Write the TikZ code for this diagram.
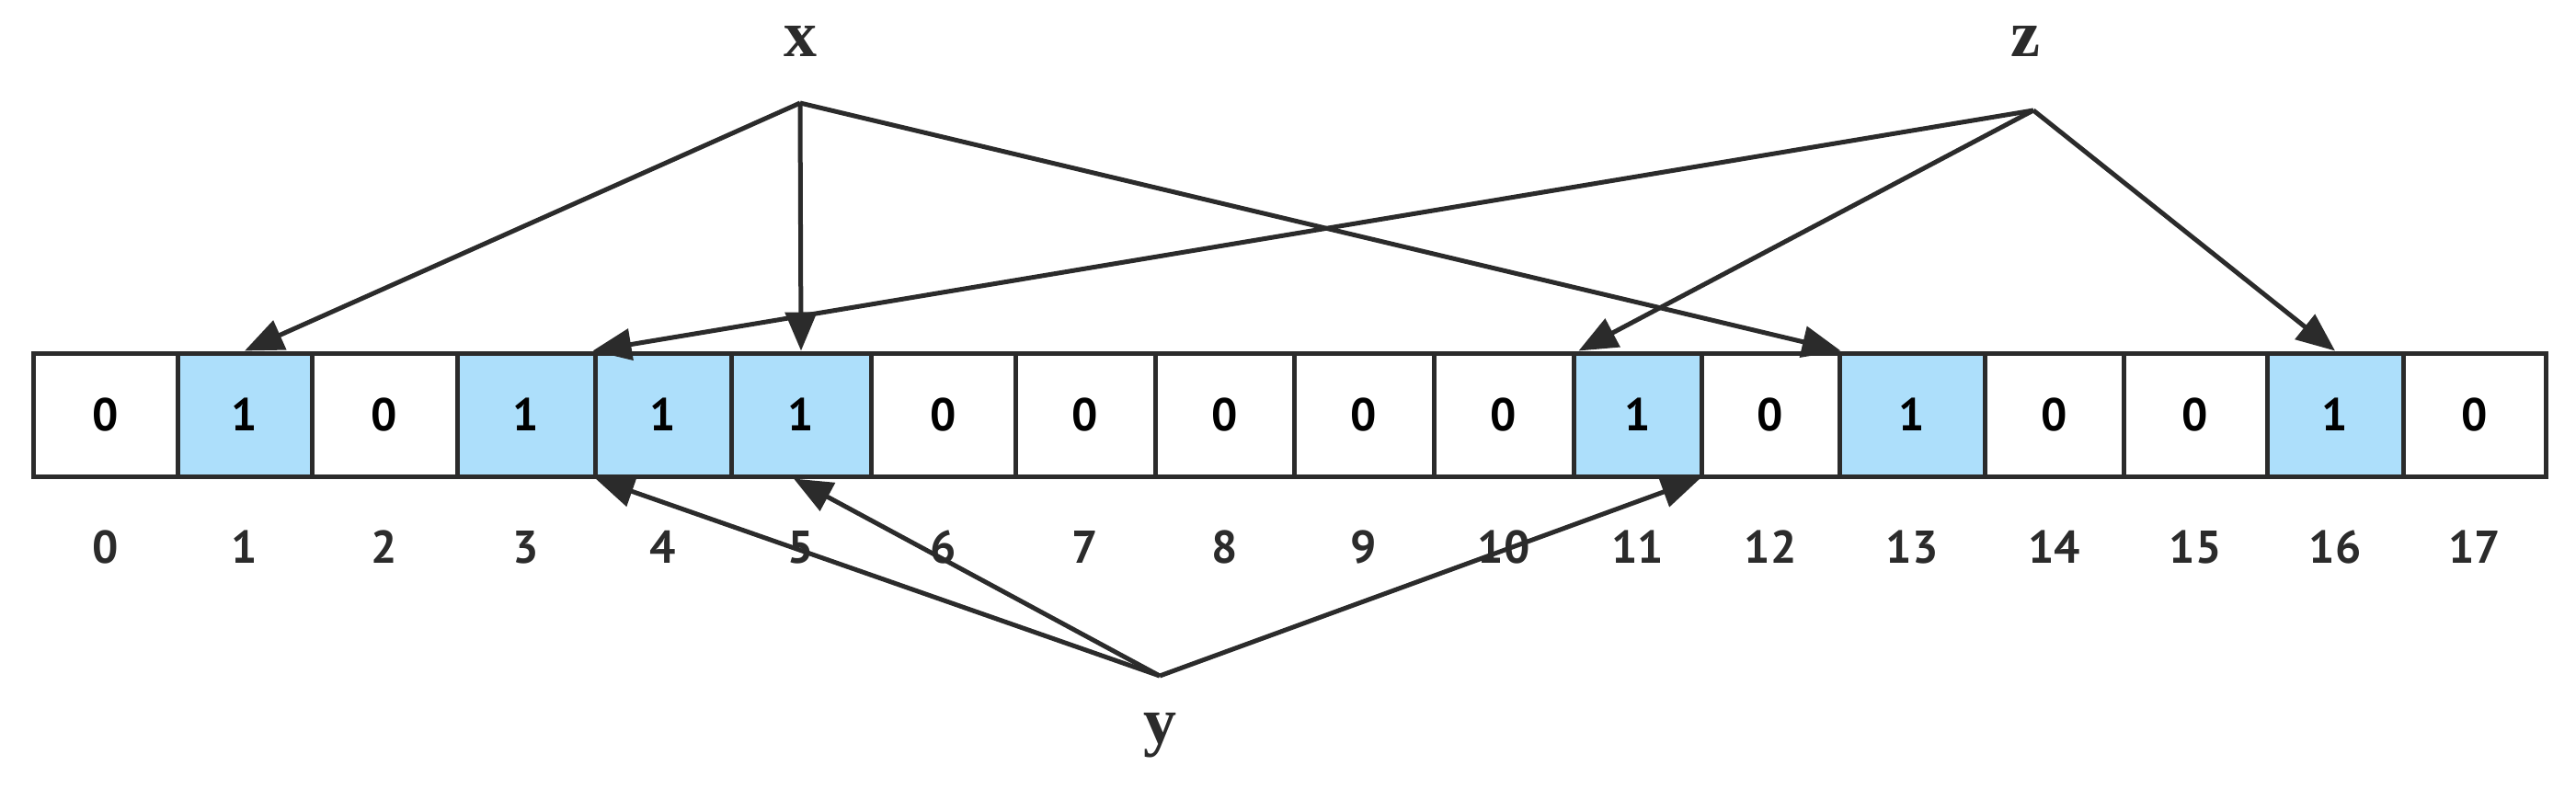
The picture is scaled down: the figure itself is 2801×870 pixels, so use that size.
\documentclass[tikz,border=0pt]{standalone}
\usepackage{fontspec}
\setmainfont{Liberation Serif}
\newfontfamily\numfont{PT Sans}
\usetikzlibrary{arrows.meta}
\definecolor{cellblue}{HTML}{ADDFFB}
\definecolor{ink}{HTML}{2B2B2B}
\begin{document}
\begin{tikzpicture}[x=1pt,y=-1pt,
  cell/.style={draw=ink,line width=5pt,inner sep=0pt,font=\numfont\bfseries\fontsize{50}{50}\selectfont},
  idx/.style={font=\numfont\bfseries\fontsize{50}{50}\selectfont,text=ink},
  var/.style={font=\bfseries\fontsize{72}{72}\selectfont,text=ink},
  arr/.style={draw=ink,line width=5pt,-{Triangle[length=42pt,width=34pt]}}]
\useasboundingbox (0,0) rectangle (2801,870);
\def\edges{36,193,339,497,647,795,947,1104,1256,1407,1559,1711,1850,2000,2158,2309,2465,2613,2768}
\def\vals{0,1,0,1,1,1,0,0,0,0,0,1,0,1,0,0,1,0}
\def\labs{0,1,2,3,4,5,6,7,8,9,10,11,12,13,14,15,16,17}
\foreach \i in {0,...,17}{
  \pgfmathsetmacro{\xa}{{\edges}[\i]}
  \pgfmathsetmacro{\xb}{{\edges}[\i+1]}
  \pgfmathtruncatemacro{\v}{{\vals}[\i]}
  \pgfmathtruncatemacro{\l}{{\labs}[\i]}
  \ifnum\v=1 \def\fc{cellblue}\else\def\fc{white}\fi
  \node[cell,fill=\fc,minimum width=\xb-\xa,minimum height=134] (c\i) at ({(\xa+\xb)/2},451) {\v};
  \node[idx] (n\i) at ({(\xa+\xb)/2},595) {\l};
}
\node[var] (x) at (870,45) {x};
\node[var] (z) at (2202,45) {z};
\node[var] (y) at (1261,800) {y};
\coordinate (xo) at (870,112);
\coordinate (zo) at (2211,120);
\coordinate (yo) at (1261,735);
\draw[arr] (xo) -- (c1.north);
\draw[arr] (xo) -- (c5.north);
\draw[arr] (xo) -- ([xshift=4pt]c13.north west);
\draw[arr] (zo) -- ([xshift=-5pt]c3.north east);
\draw[arr] (zo) -- ([xshift=8pt]c11.north west);
\draw[arr] (zo) -- (c16.north);
\draw[arr] (yo) -- ([xshift=-2pt]c3.south east);
\draw[arr] (yo) -- ([xshift=-8pt]c5.south);
\draw[arr] (yo) -- ([xshift=-4pt]c11.south east);
\end{tikzpicture}
\end{document}
